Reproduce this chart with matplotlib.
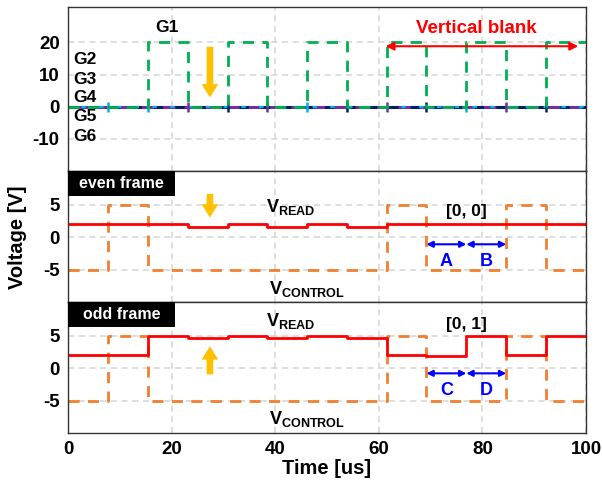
import numpy as np
import matplotlib
matplotlib.use("Agg")
import matplotlib.pyplot as plt
from matplotlib.patches import Rectangle

plt.rcParams['font.family'] = ['Liberation Sans', 'DejaVu Sans']
plt.rcParams['font.weight'] = 'bold'
plt.rcParams['mathtext.fontset'] = 'custom'
plt.rcParams['mathtext.bf'] = 'Liberation Sans:bold'
plt.rcParams['mathtext.rm'] = 'Liberation Sans:bold'
plt.rcParams['axes.unicode_minus'] = False

# scan edges (us) and step values for each interval
t_edges = [0, 7.7, 15.4, 23.1, 30.8, 38.5, 46.2, 53.8, 61.5, 69.2, 76.9, 84.6, 92.3, 100]
g1 = [0, 0, 20, 0, 20, 0, 20, 0, 20, 0, 20, 0, 20]
g_rest = [0, 0, 0, 0, 0, 0, 0, 0, 0, 0, 0, 0, 0]
vread_even = [2.0, 2.0, 2.0, 1.6, 2.0, 1.6, 2.0, 1.6, 2.0, 2.0, 2.0, 2.0, 2.0]
vread_odd = [2.0, 2.0, 5.0, 4.6, 5.0, 4.6, 5.0, 4.6, 2.1, 1.8, 5.0, 2.1, 5.0]
vcontrol = [-5, 5, -5, -5, -5, -5, -5, -5, 5, -5, -5, 5, -5]

gate_labels = ['G2', 'G3', 'G4', 'G5', 'G6']
gate_label_y = [14.8, 8.6, 2.8, -3.1, -9.3]
tick_colors = ['#00B0F0', '#00B0F0', '#7030A0', '#002060', '#7030A0', '#00B0F0',
               '#002060', '#7030A0', '#002060', '#00B0F0', '#7030A0', '#002060']

x_ticks = [0, 20, 40, 60, 80, 100]
top_yticks = [-10, 0, 10, 20]
mid_yticks = [-5, 0, 5]


def stepvals(v):
    return list(v) + [v[-1]]


fig = plt.figure(figsize=(6.02, 4.84), dpi=100)
gs = fig.add_gridspec(3, 1, height_ratios=[164, 131, 131], hspace=0,
                      left=68/602, right=586/602, top=1-7/484, bottom=1-433/484)
ax_top = fig.add_subplot(gs[0])
ax_even = fig.add_subplot(gs[1], sharex=ax_top)
ax_odd = fig.add_subplot(gs[2], sharex=ax_top)

grid_kw = dict(color='#d4d4d4', linestyle=(0, (4, 3)), linewidth=1.1)
for ax in (ax_top, ax_even, ax_odd):
    ax.set_xlim(0, 100)
    ax.set_xticks(x_ticks)
    ax.grid(True, **grid_kw)
    ax.set_axisbelow(True)
    ax.tick_params(length=0, labelsize=13.5, pad=6)
    for s in ax.spines.values():
        s.set_color('#333333')
        s.set_linewidth(1.0)

# ---- top panel: gate signals
ax_top.set_ylim(-20, 31)
ax_top.set_yticks(top_yticks)
ax_top.step(t_edges, stepvals(g_rest), where='post', color='#7030A0', lw=2.2)
ax_top.step(t_edges, stepvals(g_rest), where='post', color='#002060', lw=2.2,
            linestyle=(0, (3, 4)))
ax_top.step(t_edges, stepvals(g_rest), where='post', color='#00B0F0', lw=1.6,
            linestyle=(2, (2, 6)))
for tt, cc in zip(t_edges[1:-1], tick_colors):
    ax_top.plot([tt], [0], linestyle='none', marker='|', ms=7, mew=1.8, color=cc)
ax_top.step(t_edges, stepvals(g1), where='post', color='#00B050', lw=2.0,
            linestyle=(0, (4, 3)))
ax_top.text(19.1, 24.5, 'G1', fontsize=12.5, fontweight='bold', ha='center', va='center')
for lab, yy in zip(gate_labels, gate_label_y):
    ax_top.text(1.0, yy, lab, fontsize=12.5, fontweight='bold', ha='left', va='center')
ax_top.annotate('', xy=(27.4, 2.0), xytext=(27.4, 19.5),
                arrowprops=dict(arrowstyle='simple,head_width=1.0,head_length=0.8,tail_width=0.4',
                                color='#FFC000', lw=0, mutation_scale=12))
ax_top.annotate('', xy=(98.5, 18.8), xytext=(61.3, 18.8),
                arrowprops=dict(arrowstyle='<|-|>', color='#FF0000', lw=1.5,
                                mutation_scale=12, shrinkA=0, shrinkB=0))
ax_top.text(78.8, 24.3, 'Vertical blank', color='#FF0000', fontsize=13.5,
            fontweight='bold', ha='center', va='center')


def frame_panel(ax, vread, name, label, arrow_from, arrow_to, lbl_y, arrow_y, ab, read_y, ctl_y):
    ax.set_ylim(-10, 10.2)
    ax.set_yticks(mid_yticks)
    ax.step(t_edges, stepvals(vcontrol), where='post', color='#F08030', lw=2.0,
            linestyle=(0, (4, 3)))
    ax.step(t_edges, stepvals(vread), where='post', color='#FF0000', lw=2.0)
    ax.add_patch(Rectangle((0, 1 - 25/131), 107/518, 25/131, transform=ax.transAxes,
                           facecolor='black', edgecolor='none', zorder=5))
    ax.text(53.5/518, 1 - 12.5/131, name, transform=ax.transAxes, ha='center', va='center',
            color='white', fontsize=11.5, fontweight='bold', zorder=6)
    ax.annotate('', xy=(27.4, arrow_to), xytext=(27.4, arrow_from),
                arrowprops=dict(arrowstyle='simple,head_width=1.0,head_length=0.8,tail_width=0.4',
                                color='#FFC000', lw=0, mutation_scale=12))
    ax.text(38.2, read_y, r'$\mathbf{V_{READ}}$', fontsize=13, ha='left', va='center')
    ax.text(38.8, ctl_y, r'$\mathbf{V_{CONTROL}}$', fontsize=13, ha='left', va='center')
    ax.text(76.9, lbl_y, label, fontsize=12.5, fontweight='bold', ha='center', va='center')
    for (x0, x1), txt in zip([(69.2, 76.9), (76.9, 84.6)], ab):
        ax.annotate('', xy=(x1, arrow_y), xytext=(x0, arrow_y),
                    arrowprops=dict(arrowstyle='<|-|>', color='#0000FF', lw=1.5,
                                    mutation_scale=9, shrinkA=0, shrinkB=0))
        ax.text((x0 + x1) / 2, arrow_y - 2.6, txt, color='#0000FF', fontsize=13,
                fontweight='bold', ha='center', va='center')


frame_panel(ax_even, vread_even, 'even frame', '[0, 0]', 7.1, 2.6, 4.0, -1.1, ['A', 'B'], 4.6, -8.0)
frame_panel(ax_odd, vread_odd, 'odd frame', '[0, 1]', -1.4, 3.8, 6.8, -0.8, ['C', 'D'], 7.2, -7.9)

plt.setp(ax_top.get_xticklabels(), visible=False)
plt.setp(ax_even.get_xticklabels(), visible=False)

fig.text(18/602, 1-237/484, 'Voltage [V]', rotation=90, fontsize=14.5, fontweight='bold',
         ha='center', va='center')
fig.text(327/602, 1-469/484, 'Time [us]', fontsize=14.5, fontweight='bold',
         ha='center', va='center')

fig.savefig('out.png', dpi=100)
